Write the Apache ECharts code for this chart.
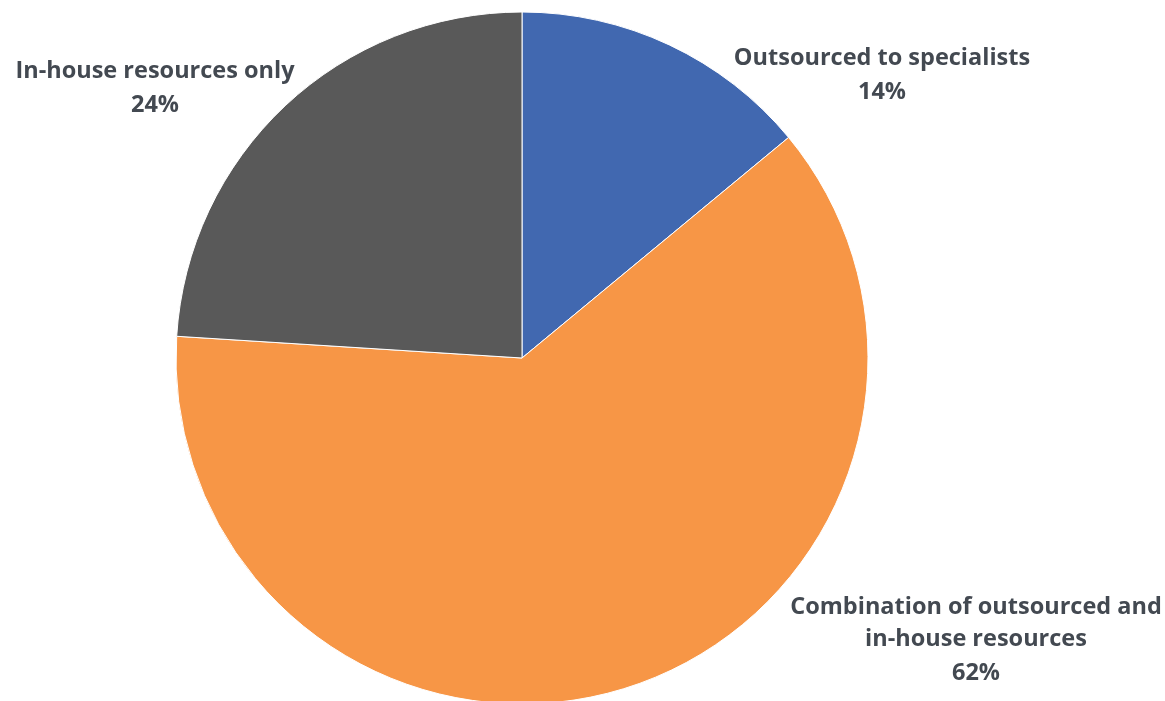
<!DOCTYPE html>
<html>
<head>
<meta charset="utf-8">
<script src="https://cdn.jsdelivr.net/npm/echarts@6/dist/echarts.min.js"></script>
<style>html,body{margin:0;padding:0;background:#fff}#c{width:1165px;height:701px}</style>
</head>
<body>
<div id="c"></div>
<script>
const categories = ['Outsourced to specialists', 'Combination of outsourced and\nin-house resources', 'In-house resources only'];
const values = [14, 62, 24];
const colors = ['#4168B0', '#F79646', '#595959'];
const labelSpots = [[882, 76], [976, 641], [155, 89]];

const chart = echarts.init(document.getElementById('c'));
chart.setOption({
  animation: false,
  series: [{
    type: 'pie',
    center: [522, 358],
    radius: [0, 346],
    startAngle: 90,
    clockwise: true,
    data: categories.map((n, i) => ({ name: n, value: values[i], itemStyle: { color: colors[i] } })),
    itemStyle: { borderColor: '#ffffff', borderWidth: 1 },
    label: {
      show: true,
      position: 'outside',
      overflow: 'none',
      width: 420,
      formatter: p => '{n|' + p.name.split('\n').join('}\n{n|') + '}\n{v|' + p.value + '%}',
      rich: {
        n: { fontFamily: 'Open Sans', fontWeight: 'bold', fontSize: 23.5, color: '#434951', lineHeight: 32, align: 'center' },
        v: { fontFamily: 'Open Sans', fontWeight: 'bold', fontSize: 23.5, color: '#434951', lineHeight: 35, align: 'center' }
      }
    },
    labelLine: { show: false },
    labelLayout: p => ({ x: labelSpots[p.dataIndex][0], y: labelSpots[p.dataIndex][1], align: 'center', verticalAlign: 'middle' })
  }]
});
</script>
</body>
</html>
